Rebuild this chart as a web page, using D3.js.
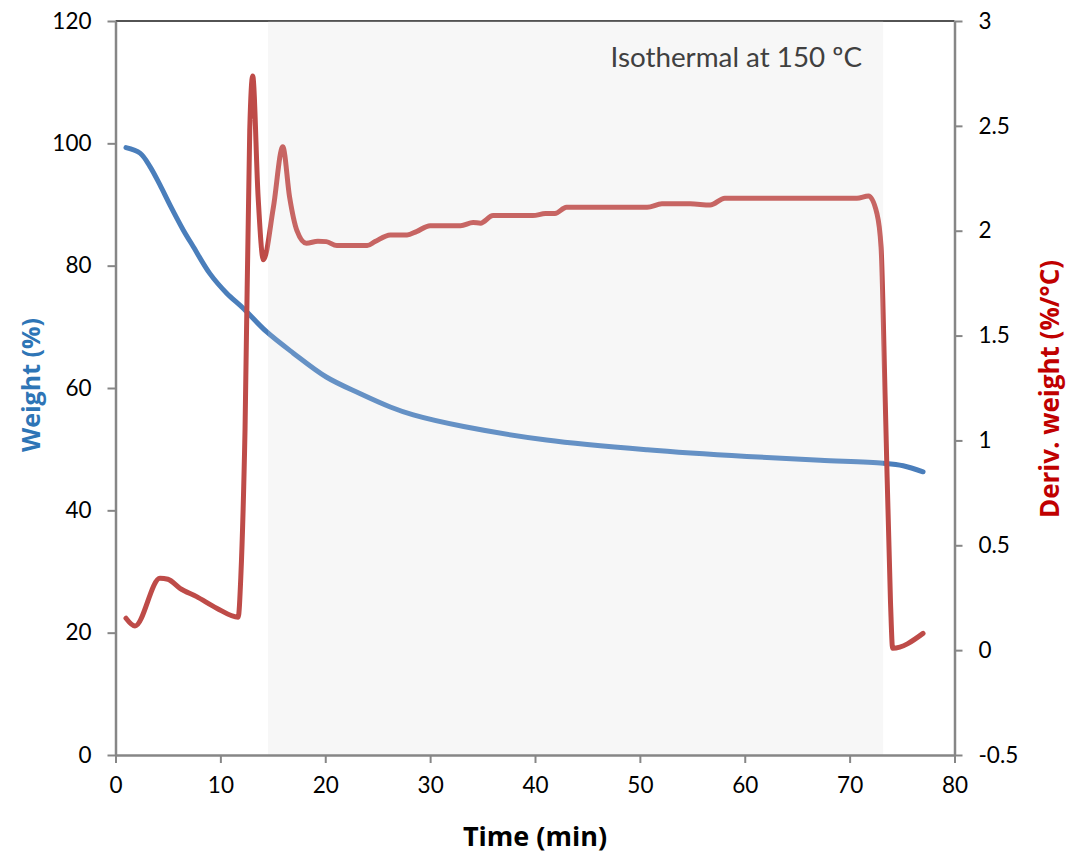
<!DOCTYPE html>
<html>
<head>
<meta charset="utf-8">
<script src="https://cdn.jsdelivr.net/npm/d3@7"></script>
<style>
  html, body { margin: 0; padding: 0; background: #fff; }
  svg { display: block; }
</style>
</head>
<body>
<svg id="chart" width="1076" height="855"></svg>
<script>
// ---- data ----
const xTicks = [0, 10, 20, 30, 40, 50, 60, 70, 80];
const leftTicks = [0, 20, 40, 60, 80, 100, 120];
const rightTicks = [-0.5, 0, 0.5, 1, 1.5, 2, 2.5, 3];
const rightTickLabels = ["-0.5", "0", "0.5", "1", "1.5", "2", "2.5", "3"];

const isothermalRange = [14.55, 73.2];
const isothermalLabel = "Isothermal at 150 ºC";

const weightTime   = [1.0, 2.34, 3.29, 4.24, 5.2, 6.47, 7.42, 9.0, 10.6, 12.2, 14.4, 16.96, 20.1, 23.3, 26.2, 28.4, 33.2, 41.1, 50.7, 60.2, 67.2, 73.2, 75.1, 77.0];
const weightValues = [99.3, 98.4, 96.2, 93.2, 89.9, 85.8, 83.1, 78.7, 75.5, 73.0, 69.2, 65.7, 61.8, 59.1, 56.9, 55.6, 53.7, 51.5, 49.9, 48.8, 48.2, 47.7, 47.3, 46.3];

const derivTime   = [1.0, 1.86, 4.24, 5.0, 6.15, 7.74, 9.65, 11.7, 11.95, 12.35, 12.8, 13.08, 13.6, 14.1, 15.05, 15.95, 16.6, 17.3, 18.2, 19.3, 20.1, 21.1, 24.0, 24.75, 26.2, 27.8, 28.7, 30.0, 32.9, 34.1, 34.8, 36.0, 39.8, 41.0, 41.9, 43.0, 50.7, 52.1, 54.8, 56.7, 58.1, 70.7, 71.8, 72.6, 73.0, 73.4, 73.9, 74.1, 77.0];
const derivValues = [0.152, 0.115, 0.343, 0.338, 0.295, 0.255, 0.2, 0.157, 0.35, 1.05, 2.48, 2.738, 2.16, 1.861, 2.11, 2.40, 2.16, 2.0, 1.94, 1.95, 1.948, 1.929, 1.929, 1.948, 1.98, 1.98, 1.996, 2.024, 2.024, 2.039, 2.036, 2.072, 2.072, 2.082, 2.082, 2.112, 2.112, 2.128, 2.128, 2.123, 2.155, 2.155, 2.166, 2.083, 1.92, 1.18, 0.225, 0.009, 0.08];

// ---- layout ----
const L = 115.5, R = 954.5, T = 21, B = 755;
const svg = d3.select("#chart");
const x = d3.scaleLinear().domain([0, 80]).range([L, R]);
const yL = d3.scaleLinear().domain([0, 120]).range([B, T]);
const yR = d3.scaleLinear().domain([-0.5, 3]).range([B, T]);

const tickFont = "Lato, 'Open Sans', sans-serif";
const axisColor = "#868686";

// shaded isothermal region
svg.append("rect")
  .attr("x", x(isothermalRange[0])).attr("y", T)
  .attr("width", x(isothermalRange[1]) - x(isothermalRange[0]))
  .attr("height", B - T)
  .attr("fill", "#f6f6f6");

// top border
svg.append("line").attr("x1", L).attr("x2", R).attr("y1", T).attr("y2", T)
  .attr("stroke", "#1a1a1a").attr("stroke-width", 1.5);

// lines
const weightPts = weightTime.map((t, i) => [t, weightValues[i]]);
const derivPts = derivTime.map((t, i) => [t, derivValues[i]]);

svg.append("path").datum(weightPts)
  .attr("fill", "none").attr("stroke", "#4a7ebb").attr("stroke-width", 5)
  .attr("stroke-linecap", "round").attr("stroke-linejoin", "round")
  .attr("d", d3.line().x(d => x(d[0])).y(d => yL(d[1])).curve(d3.curveCatmullRom.alpha(0.5)));

svg.append("path").datum(derivPts)
  .attr("fill", "none").attr("stroke", "#be4b48").attr("stroke-width", 5)
  .attr("stroke-linecap", "round").attr("stroke-linejoin", "round")
  .attr("d", d3.line().x(d => x(d[0])).y(d => yR(d[1])).curve(d3.curveMonotoneX));

// translucent overlay over the isothermal region
svg.append("rect")
  .attr("x", x(isothermalRange[0])).attr("y", T)
  .attr("width", x(isothermalRange[1]) - x(isothermalRange[0]))
  .attr("height", B - T)
  .attr("fill", "#ffffff").attr("fill-opacity", 0.15);

// label
svg.append("text")
  .attr("x", 862).attr("y", 67)
  .attr("text-anchor", "end")
  .attr("font-family", tickFont).attr("font-weight", 400)
  .attr("font-size", 27.8).attr("fill", "#404040")
  .text(isothermalLabel);

// axes
function styleAxis(g) {
  g.select(".domain").attr("stroke", axisColor).attr("stroke-width", 2.5);
  g.selectAll(".tick line").attr("stroke", axisColor).attr("stroke-width", 2);
  g.selectAll(".tick text").attr("font-family", tickFont).attr("font-size", 22.5).attr("fill", "#000");
}

svg.append("g").attr("transform", `translate(0,${B})`)
  .call(d3.axisBottom(x).tickValues(xTicks).tickSize(8).tickSizeOuter(0).tickPadding(14))
  .call(styleAxis);

svg.append("g").attr("transform", `translate(${L},0)`)
  .call(d3.axisLeft(yL).tickValues(leftTicks).tickSize(8).tickSizeOuter(0).tickPadding(16))
  .call(styleAxis);

svg.append("g").attr("transform", `translate(${R},0)`)
  .call(d3.axisRight(yR).tickValues(rightTicks).tickFormat((d, i) => rightTickLabels[i]).tickSize(8).tickSizeOuter(0).tickPadding(16))
  .call(styleAxis);

// axis titles
svg.append("text")
  .attr("x", (L + R) / 2).attr("y", 846)
  .attr("text-anchor", "middle")
  .attr("font-family", "'Open Sans', sans-serif").attr("font-weight", 700)
  .attr("font-size", 27).attr("fill", "#000")
  .text("Time (min)");

svg.append("text")
  .attr("transform", `translate(40,${(T + B) / 2 - 3}) rotate(-90)`)
  .attr("text-anchor", "middle")
  .attr("font-family", "'Open Sans', sans-serif").attr("font-weight", 700)
  .attr("font-size", 25).attr("fill", "#2e75b6")
  .text("Weight (%)");

svg.append("text")
  .attr("transform", `translate(1059,${(T + B) / 2 + 1}) rotate(-90)`)
  .attr("text-anchor", "middle")
  .attr("font-family", "'Open Sans', sans-serif").attr("font-weight", 700)
  .attr("font-size", 26).attr("fill", "#c00000")
  .text("Deriv. weight (%/°C)");
</script>
</body>
</html>
